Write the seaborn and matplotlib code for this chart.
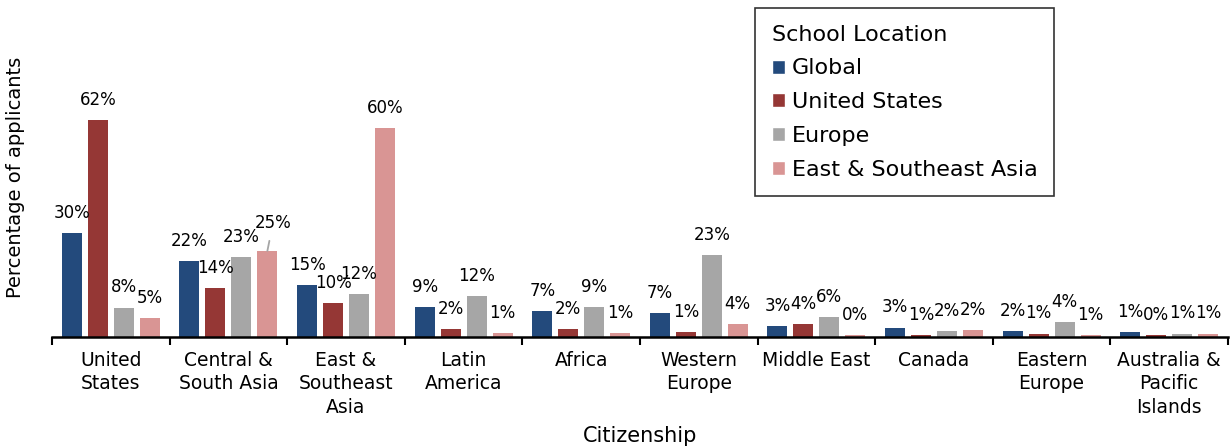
import pandas as pd
import matplotlib.pyplot as plt
import seaborn as sns
from matplotlib.patches import Patch
from matplotlib.ticker import FixedLocator

# Données (hauteurs, étiquettes arrondies)
citizenship = ["United\nStates", "Central &\nSouth Asia", "East &\nSoutheast\nAsia", "Latin\nAmerica",
               "Africa", "Western\nEurope", "Middle East", "Canada", "Eastern\nEurope",
               "Australia &\nPacific\nIslands"]
locations = ["Global", "United States", "Europe", "East & Southeast Asia"]
global_vals = [29.7, 21.6, 14.9, 8.6, 7.4, 6.9, 3.1, 2.7, 1.6, 1.4]
us_vals = [62.1, 14.0, 9.7, 2.3, 2.3, 1.4, 3.7, 0.6, 1.0, 0.5]
europe_vals = [8.4, 22.9, 12.3, 11.7, 8.6, 23.4, 5.6, 1.6, 4.2, 1.0]
asia_vals = [5.4, 24.6, 59.6, 1.1, 1.1, 3.7, 0.5, 2.1, 0.6, 1.0]
colors = ["#234A7C", "#953735", "#A6A6A6", "#D99594"]

df = pd.DataFrame({
    "Citizenship": citizenship * 4,
    "Location": [l for l in locations for _ in citizenship],
    "Value": global_vals + us_vals + europe_vals + asia_vals,
})

sns.set_style("white")
plt.rcParams['font.family'] = ['DejaVu Sans']
plt.rcParams['text.color'] = 'black'
plt.rcParams['axes.labelcolor'] = 'black'
plt.rcParams['xtick.color'] = 'black'

fig = plt.figure(figsize=(12.31, 4.47), dpi=100)
ax = fig.add_axes([52 / 1231, 110 / 447, 1176 / 1231, 227.5 / 447])

sns.barplot(data=df, x="Citizenship", y="Value", hue="Location", hue_order=locations,
            palette=colors, width=0.884, gap=0.23, saturation=1, legend=False,
            linewidth=0, ax=ax)

ax.set_ylim(0, 65)
ax.set_xlim(-0.5, 9.5)

# Étiquettes de valeurs
for cont in ax.containers:
    for bar in cont:
        h = bar.get_height()
        xc = bar.get_x() + bar.get_width() / 2
        if round(h) == 25:
            ax.annotate(f"{h:.0f}%", xy=(xc, h), xytext=(4, 20), textcoords="offset points",
                        ha="center", va="center", fontsize=12, clip_on=False,
                        arrowprops=dict(arrowstyle="-", color="#A6A6A6", lw=1.3,
                                        shrinkA=4, shrinkB=0))
        else:
            ax.annotate(f"{h:.0f}%", xy=(xc, h), xytext=(0, 14.5), textcoords="offset points",
                        ha="center", va="center", fontsize=12, clip_on=False)

# Axes
sns.despine(ax=ax, left=True)
ax.spines["bottom"].set_linewidth(1.8)
ax.spines["bottom"].set_color("black")
ax.set_yticks([])
ax.tick_params(axis="x", which="major", length=0, pad=10, labelsize=13.5)
for t in ax.get_xticklabels():
    t.set_linespacing(1.3)
ax.xaxis.set_minor_locator(FixedLocator([i - 0.5 for i in range(11)]))
ax.tick_params(axis="x", which="minor", length=6, width=1.5, color="black", bottom=True)

ax.set_xlabel("Citizenship", fontsize=15)
ax.xaxis.set_label_coords(0.5, -0.39)
ax.set_ylabel("Percentage of applicants", fontsize=14)
ax.yaxis.set_label_coords(-0.023, 0.70)

# Légende
handles = [Patch(facecolor=c, label=l) for c, l in zip(colors, locations)]
leg = fig.legend(handles=handles, title="School Location", loc="upper left",
                 bbox_to_anchor=(755 / 1231, 1 - 8 / 447), fontsize=16, title_fontsize=16,
                 frameon=True, fancybox=False, edgecolor="black", handlelength=0.6,
                 handleheight=0.6, handletextpad=0.3, labelspacing=0.62, borderpad=0.75,
                 borderaxespad=0, alignment="left")
leg.get_frame().set_linewidth(1.2)

fig.savefig("out.png", dpi=100)
